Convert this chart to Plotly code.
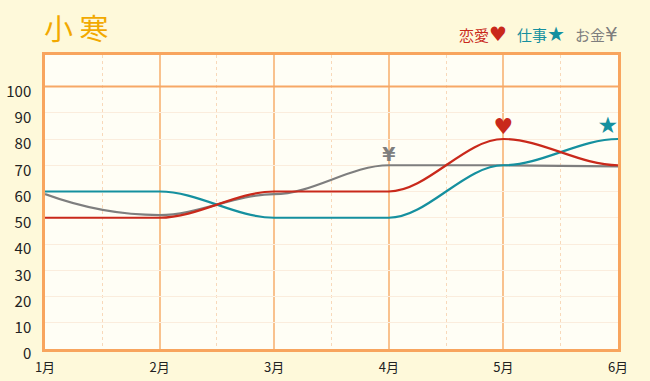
import plotly.graph_objects as go

months = ["1月", "2月", "3月", "4月", "5月", "6月"]
love = [50, 50, 60, 60, 80, 70]
work = [60, 60, 50, 50, 70, 80]
money = [59, 51, 59, 70, 70, 69.6]

names = ["恋愛", "仕事", "お金"]
symbols = ["♥", "★", "¥"]
colors = ["#C9291B", "#15909F", "#7E7E7E"]
mark_idx = [4, 5, 3]

x = list(range(len(months)))
series = [love, work, money]


def smooth_path(xs, ys):
    """Cubic Bezier path through the data points (flat tangents at points,
    eased start), in data coordinates so Plotly maps it through the axes."""
    n = len(xs)
    tang = [0.0] * n
    tang[0] = 2.0 * (ys[1] - ys[0]) / (xs[1] - xs[0])
    p = f"M {xs[0]},{ys[0]}"
    for i in range(n - 1):
        dx = xs[i + 1] - xs[i]
        c1x, c1y = xs[i] + dx / 3, ys[i] + tang[i] * dx / 3
        c2x, c2y = xs[i + 1] - dx / 3, ys[i + 1] - tang[i + 1] * dx / 3
        p += f" C {c1x},{c1y} {c2x},{c2y} {xs[i + 1]},{ys[i + 1]}"
    return p


fig = go.Figure()

# symbol marks at each series' highlighted point
for i in [2, 1, 0]:
    j = mark_idx[i]
    fig.add_trace(go.Scatter(
        x=[x[j]], y=[series[i][j]], mode="text", text=[symbols[i]],
        textposition="top left" if j == len(x) - 1 else "top center",
        textfont=dict(color=colors[i], size=22 if i == 0 else (23 if i == 1 else 19),
                      family="DejaVu Sans", weight="bold" if i == 2 else "normal"),
        hoverinfo="skip", showlegend=False, cliponaxis=False))

# lines (order: money, work, love)
for i in [2, 1, 0]:
    fig.add_shape(type="path", xref="x", yref="y", path=smooth_path(x, series[i]),
                  line=dict(color=colors[i], width=2.2), layer="above")

# legend as text
sep = "&nbsp;&nbsp;&nbsp;"
legend_html = sep.join(
    f"<span style='color:{c}'>{n}<span style='font-size:20px;font-family:DejaVu Sans'>{s}</span></span>"
    for n, s, c in zip(names, symbols, colors))
fig.add_annotation(xref="paper", yref="paper", x=1, y=1, xanchor="right", yanchor="bottom",
                   xshift=2, yshift=7, showarrow=False, text=legend_html,
                   font=dict(size=15, family="Noto Sans CJK JP"))

fig.add_annotation(xref="paper", yref="paper", x=0, y=1, xanchor="left", yanchor="bottom",
                   xshift=-3, yshift=5, showarrow=False, text="小 寒",
                   font=dict(size=29, family="Noto Sans CJK JP", color="#F2A900"))

fig.add_shape(type="line", xref="paper", yref="y", x0=0, x1=1, y0=100, y1=100,
              line=dict(color="#F7A866", width=2), layer="above")

fig.update_layout(
    width=650, height=381, autosize=False,
    margin=dict(l=45, r=32, t=55, b=32),
    paper_bgcolor="#FEF9DA", plot_bgcolor="#FFFEF5",
    font=dict(family="Noto Sans CJK JP", color="#222222", size=13),
    xaxis=dict(range=[0, 5], tickvals=x, ticktext=months, showgrid=True,
               gridcolor="#F9C28E", gridwidth=1.5, zeroline=False, automargin=False,
               showline=True, mirror=True, linecolor="#F8A55E", linewidth=2.5,
               ticks="", tickfont=dict(size=13), ticklabelstandoff=5,
               minor=dict(dtick=0.5, showgrid=True, gridcolor="#F8D9BA", griddash="dot", gridwidth=1)),
    yaxis=dict(range=[0, 112], tickvals=list(range(0, 101, 10)), showgrid=True,
               gridcolor="#FBEDDD", gridwidth=1, zeroline=False, automargin=False,
               showline=True, mirror=True, linecolor="#F8A55E", linewidth=2.5,
               ticks="", tickfont=dict(size=15), ticklabelshift=5, ticklabelstandoff=8),
)

fig.write_html("out.html", config={"displayModeBar": False},
               post_script="document.body.style.margin='0';document.body.style.padding='0';")
